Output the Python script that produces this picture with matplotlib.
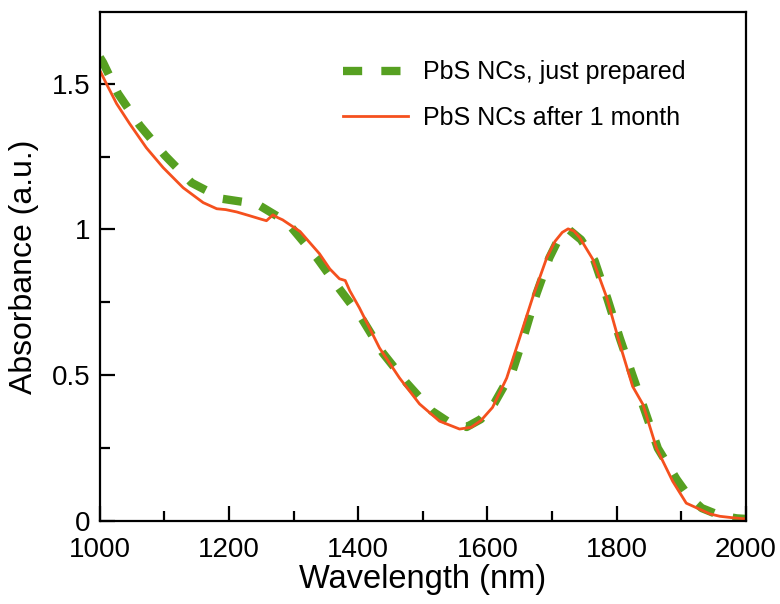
import matplotlib
matplotlib.use("Agg")
import matplotlib.pyplot as plt
from matplotlib.ticker import MultipleLocator, FuncFormatter

plt.rcParams['font.family'] = ['Liberation Sans', 'DejaVu Sans']

# PbS NCs, just prepared
wl_fresh = [1000, 1005, 1028, 1062, 1101, 1142, 1190, 1220, 1248, 1275, 1297,
            1336, 1371, 1405, 1438, 1475, 1514, 1540, 1568, 1590, 1611, 1639,
            1658, 1676, 1696, 1712, 1727, 1745, 1766, 1786, 1805, 1824, 1844,
            1864, 1893, 1912, 1932, 1960, 1986, 2000]
abs_fresh = [1.59, 1.572, 1.466, 1.356, 1.253, 1.16, 1.105, 1.095, 1.081, 1.045, 1.006,
             0.903, 0.796, 0.697, 0.577, 0.474, 0.378, 0.340, 0.323, 0.350, 0.405, 0.515,
             0.645, 0.779, 0.903, 0.975, 0.998, 0.965, 0.893, 0.762, 0.628, 0.505, 0.378,
             0.25, 0.144, 0.085, 0.045, 0.02, 0.01, 0.008]

# PbS NCs after 1 month
wl_month = [1000, 1010, 1026, 1046, 1072, 1098, 1129, 1160, 1181, 1195, 1212,
            1232, 1250, 1258, 1268, 1276, 1283, 1310, 1340, 1356, 1371, 1380,
            1387, 1402, 1433, 1464, 1495, 1526, 1557, 1575, 1590, 1608, 1630,
            1650, 1670, 1692, 1705, 1716, 1725, 1734, 1743, 1763, 1785, 1805, 1825, 1841,
            1862, 1887, 1908, 1929, 1945, 1960, 1980, 2000]
abs_month = [1.545, 1.50, 1.431, 1.363, 1.280, 1.212, 1.143, 1.092, 1.071, 1.068, 1.060,
             1.047, 1.035, 1.030, 1.050, 1.040, 1.033, 0.993, 0.917, 0.865, 0.831, 0.825,
             0.790, 0.731, 0.594, 0.491, 0.402, 0.343, 0.316, 0.322, 0.345, 0.39, 0.491,
             0.628, 0.766, 0.903, 0.960, 0.990, 1.002, 0.995, 0.972, 0.899, 0.766, 0.608, 0.462, 0.40,
             0.25, 0.137, 0.062, 0.041, 0.025, 0.017, 0.012, 0.008]

fig = plt.figure(figsize=(7.8, 6.04), dpi=100)
ax = fig.add_axes([0.128, 0.137, 0.828, 0.843])

green = '#56a021'
orange = '#f5501e'

line1, = ax.plot(wl_fresh, abs_fresh, color=green, linewidth=6, label='PbS NCs, just prepared')
line1.set_dashes((2.3, 2.3))
ax.plot(wl_month, abs_month, color=orange, linewidth=2, label='PbS NCs after 1 month')

ax.set_xlim(1000, 2000)
ax.set_ylim(0, 1.745)
ax.xaxis.set_major_locator(MultipleLocator(200))
ax.xaxis.set_minor_locator(MultipleLocator(100))
ax.yaxis.set_major_locator(MultipleLocator(0.5))
ax.yaxis.set_minor_locator(MultipleLocator(0.25))
ax.yaxis.set_major_formatter(FuncFormatter(lambda v, p: f'{v:g}'))

ax.tick_params(which='both', direction='in', width=1.6, labelsize=20)
ax.tick_params(which='major', length=11, pad=7)
ax.tick_params(which='minor', length=7.5)
ax.tick_params(axis='x', which='major', pad=11)
for s in ax.spines.values():
    s.set_linewidth(1.6)

ax.set_xlabel('Wavelength (nm)', fontsize=23.5, labelpad=1)
ax.set_ylabel('Absorbance (a.u.)', fontsize=23, labelpad=9)

ax.legend(loc='upper left', bbox_to_anchor=(0.376, 0.905), frameon=False, fontsize=18,
          borderpad=0, borderaxespad=0,
          handlelength=2.6, handletextpad=0.6, labelspacing=0.85)

fig.savefig('out.png', dpi=100)
